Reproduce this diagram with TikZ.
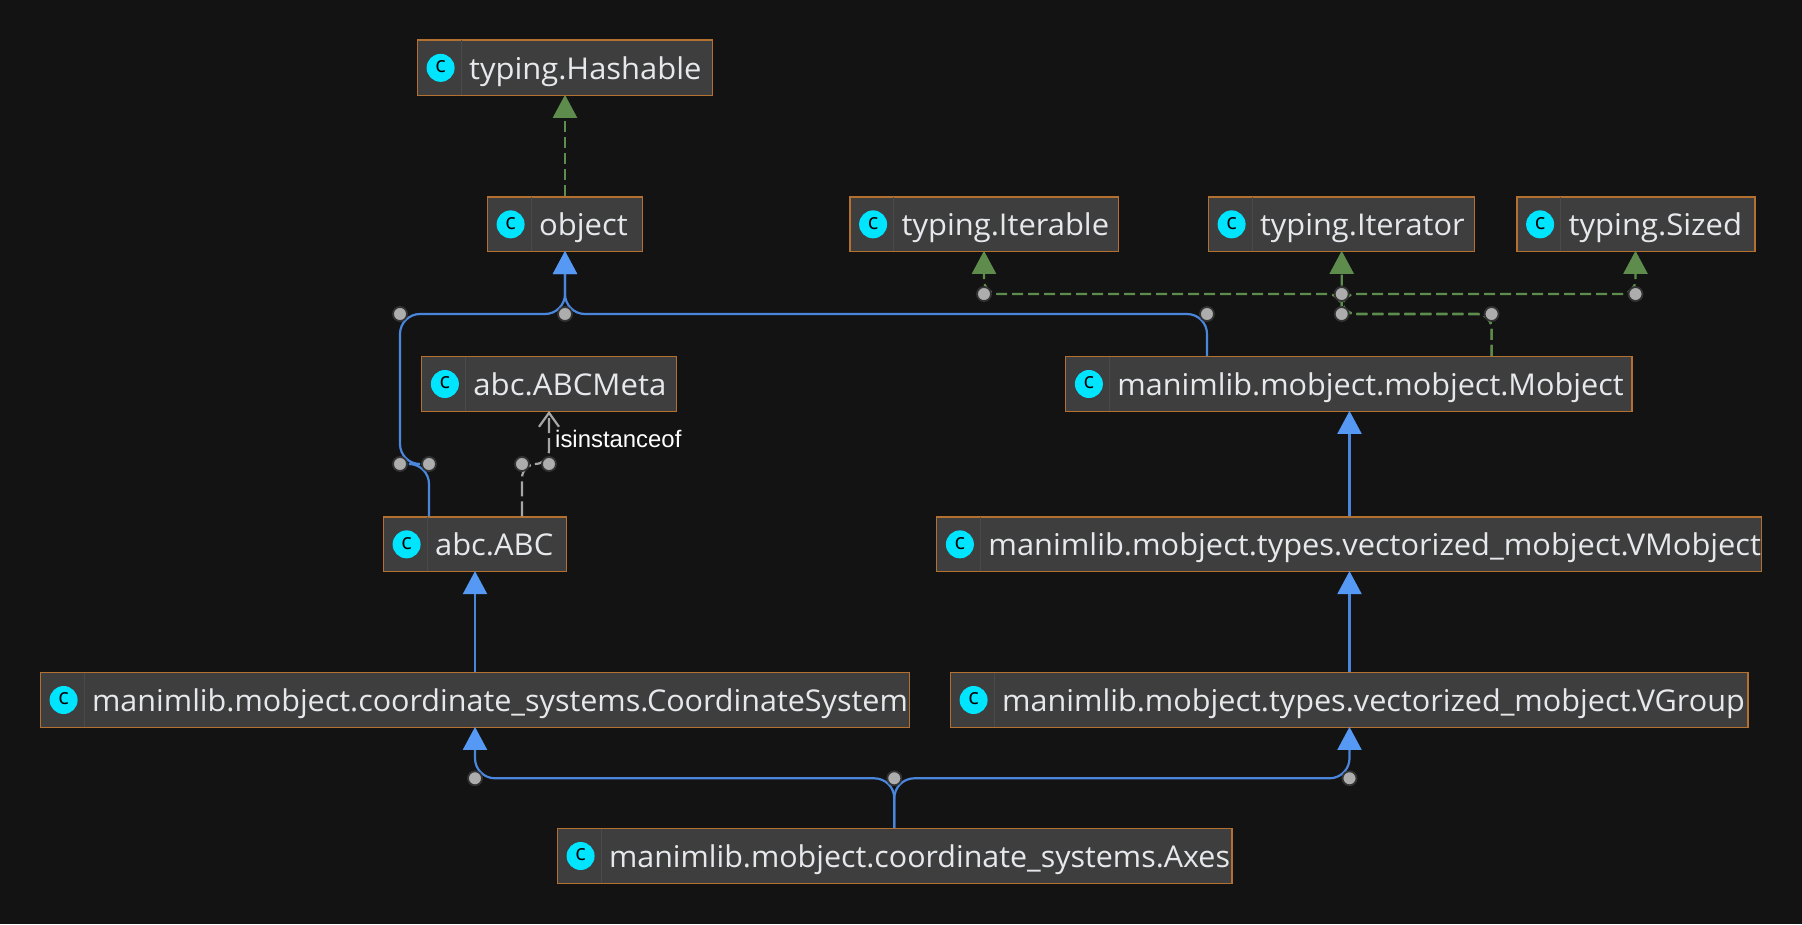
\documentclass[tikz,border=0pt]{standalone}
\usepackage{fontspec}
\setmainfont{Open Sans}
\newfontfamily\classfont[FakeStretch=1.02]{Open Sans}
\newfontfamily\iconfont{Open Sans}
\newfontfamily\edgefont{Liberation Sans}
\usetikzlibrary{arrows.meta}
\definecolor{bgc}{HTML}{131313}
\definecolor{boxc}{HTML}{3E3E3E}
\definecolor{edgeor}{HTML}{B4702F}
\definecolor{sepc}{HTML}{4A4A4A}
\definecolor{txtc}{HTML}{E6E8EC}
\definecolor{cyanc}{HTML}{00E5FF}
\definecolor{bluel}{HTML}{4A86DC}
\definecolor{bluet}{HTML}{5599F5}
\definecolor{greenl}{HTML}{5D8C4C}
\definecolor{greyl}{HTML}{A6A6A6}
\definecolor{dotf}{HTML}{ADADAD}
\definecolor{dotr}{HTML}{333333}
\tikzset{
  x=1pt,y=-1pt,
  classbox/.style={draw=edgeor,fill=boxc,line width=1.2pt,inner sep=0pt,minimum height=55pt},
  classlabel/.style={font=\classfont\fontsize{30}{32}\selectfont,text=txtc,inner sep=0pt,anchor=base west},
  icon/.style={circle,fill=cyanc,minimum size=28pt,inner sep=0pt,text=black},
  iconglyph/.style={text=black,inner sep=0pt,font=\iconfont\fontsize{22}{22}\selectfont},
  sepline/.style={draw=sepc,line width=0.8pt},
  bend dot/.style={circle,fill=dotf,draw=dotr,line width=1.8pt,minimum size=14pt,inner sep=0pt},
  extends/.style={draw=bluel,line width=2.2pt,rounded corners=20pt,-{Triangle[length=23pt,width=24pt,fill=bluet,color=bluet]}},
  implements/.style={draw=greenl,line width=2.2pt,dash pattern=on 11pt off 5pt,rounded corners=14pt,-{Triangle[length=23pt,width=24pt,fill=greenl,color=greenl]}},
  instance/.style={draw=greyl,line width=2.2pt,dash pattern=on 15pt off 5pt,rounded corners=14pt,-{Straight Barb[length=14pt,width=20pt,color=greyl]}},
  edgelabel/.style={font=\edgefont\fontsize{23.9}{26}\selectfont,text=white,inner sep=0pt,anchor=base west}
}
\newcommand{\classnode}[7]{% name, left, right, top, bottom, text, horizontal fit
  \pgfmathsetmacro{\cxx}{(#2+#3)/2}\pgfmathsetmacro{\cyy}{(#4+#5)/2}\pgfmathsetmacro{\cww}{#3-#2}\pgfmathsetmacro{\chh}{#5-#4}
  \node[classbox,minimum width=\cww pt,minimum height=\chh pt] (#1) at (\cxx,\cyy) {};
  \draw[sepline] ([xshift=44pt,yshift=-1pt]#1.north west) -- ([xshift=44pt,yshift=1pt]#1.south west);
  \node[icon] (#1icon) at ([xshift=23.7pt]#1.west) {};
  \node[iconglyph] (#1glyph) at ([yshift=1pt]#1icon.center) {c};
  \node[classlabel] (#1text) at ([xshift=52pt,yshift=-11.5pt]#1.west) {\scalebox{#7}[1]{#6}};
}
\begin{document}
\begin{tikzpicture}
\useasboundingbox (0,0) rectangle (1802,924);
\fill[bgc] (0,0) rectangle (1802,924);

\classnode{hashable}{417.5}{712.5}{40}{95.7}{typing.Hashable}{1.01}
\classnode{object}{487.5}{642.5}{197}{251.7}{object}{1.013}
\classnode{iterable}{850}{1118.5}{197}{251.7}{typing.Iterable}{1.01}
\classnode{iterator}{1208.5}{1474.5}{197}{251.7}{typing.Iterator}{1.005}
\classnode{sized}{1517}{1755}{197}{251.7}{typing.Sized}{1.013}
\classnode{abcmeta}{421.8}{676.5}{356.5}{411.5}{abc.ABCMeta}{1.018}
\classnode{mobject}{1065.8}{1632}{356.5}{411.5}{manimlib.mobject.mobject.Mobject}{1.0}
\classnode{abc}{383.5}{566.5}{517}{571.7}{abc.ABC}{1.01}
\classnode{vmobject}{936.8}{1761.5}{517}{571.7}{manimlib.mobject.types.vectorized\_mobject.VMobject}{1.006}
\classnode{coord}{40.5}{909.3}{672.5}{727.5}{manimlib.mobject.coordinate\_systems.CoordinateSystem}{0.997}
\classnode{vgroup}{950.5}{1748}{672.5}{727.5}{manimlib.mobject.types.vectorized\_mobject.VGroup}{1.0}
\classnode{axes}{557.5}{1232}{828.5}{883.5}{manimlib.mobject.coordinate\_systems.Axes}{0.994}

% bend points
\coordinate (b1) at (565,314);
\coordinate (b2) at (400,314);
\coordinate (b3) at (400,464);
\coordinate (b4) at (429,464);
\coordinate (b5) at (1207,314);
\coordinate (g1) at (1491.6,314);
\coordinate (g2) at (1341.7,314);
\coordinate (g3) at (1341.7,294);
\coordinate (g4) at (984,294);
\coordinate (g5) at (1635.5,294);
\coordinate (i1) at (522,464);
\coordinate (i2) at (549,464);
\coordinate (a1) at (894.3,778.3);
\coordinate (a2) at (475,778.3);
\coordinate (a3) at (1349.5,778.3);
\coordinate (m1) at (1349.5,450);
\coordinate (m2) at (475,620);

% connectors
\draw[implements] (object.north -| b1) -- ([yshift=1.5pt]hashable.south -| b1);
\draw[extends] (abc.north -| b4) -- (b4) -- (b3) -- (b2) -- (b1) -- ([yshift=1.2pt]object.south -| b1);
\draw[extends] (mobject.north -| b5) -- (b5) -- (b1) -- ([yshift=1.2pt]object.south -| b1);
\draw[instance] (abc.north -| i1) -- (i1) -- (i2) -- ([yshift=1.2pt]abcmeta.south -| i2);
\draw[implements] (mobject.north -| g1) -- (g1) -- (g2) -- (g3) -- (g4) -- ([yshift=1.5pt]iterable.south -| g4);
\draw[implements] (mobject.north -| g1) -- (g1) -- (g2) -- (g3) -- (g5) -- ([yshift=1.5pt]sized.south -| g5);
\draw[implements] (mobject.north -| g1) -- (g1) -- (g2) -- ([yshift=1.5pt]iterator.south -| g2);
\draw[extends] (vmobject.north -| m1) -- ([yshift=1.2pt]mobject.south -| m1);
\draw[extends] (vgroup.north -| m1) -- ([yshift=1.2pt]vmobject.south -| m1);
\draw[extends] (coord.north -| m2) -- ([yshift=1.2pt]abc.south -| m2);
\draw[extends] (axes.north -| a1) -- (a1) -- (a2) -- ([yshift=1.2pt]coord.south -| a2);
\draw[extends] (axes.north -| a1) -- (a1) -- (a3) -- ([yshift=1.2pt]vgroup.south -| a3);

% bend markers
\foreach \p in {b1,b2,b3,b4,b5,g1,g2,g3,g4,g5,i1,i2,a1,a2,a3}{
  \node[bend dot] (dot\p) at (\p) {};
}
\node[edgelabel] (isinst) at (555,447) {isinstanceof};
\end{tikzpicture}
\end{document}
